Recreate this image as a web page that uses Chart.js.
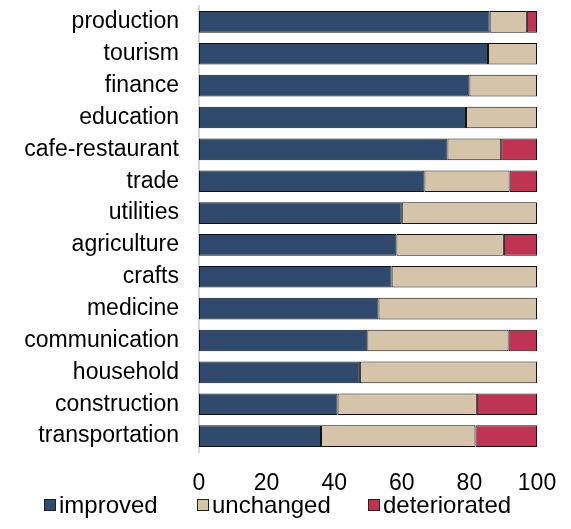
<!DOCTYPE html>
<html>
<head>
<meta charset="utf-8">
<script src="https://cdn.jsdelivr.net/npm/chart.js@4.4.1/dist/chart.umd.min.js"></script>
<style>
  html, body { margin: 0; padding: 0; background: #fff; }
  #wrap { position: relative; width: 571px; height: 529px; }
  canvas { display: block; }
  .item {
    position: absolute; top: 491px; height: 28px;
    font-family: "Liberation Sans", Arial, sans-serif; font-size: 24px; color: #000;
    display: flex; align-items: center; white-space: nowrap;
  }
  .box { width: 10px; height: 10px; border: 1px solid #222; margin-right: 3px; }
</style>
</head>
<body>
<div id="wrap">
  <canvas id="chart" width="571" height="529"></canvas>
</div>
<script>
const categories = ['production', 'tourism', 'finance', 'education', 'cafe-restaurant', 'trade', 'utilities',
  'agriculture', 'crafts', 'medicine', 'communication', 'household', 'construction', 'transportation'];
const improved = [86, 85.5, 80, 79, 73.5, 66.7, 60, 58.4, 57, 53.1, 49.8, 47.6, 41, 36.1];
const unchanged = [11, 14.5, 20, 21, 15.9, 25.2, 40, 31.8, 43, 46.9, 41.8, 52.4, 41.2, 45.7];
const deteriorated = [3, 0, 0, 0, 10.6, 8.1, 0, 9.8, 0, 0, 8.4, 0, 17.8, 18.2];
const seriesNames = ['improved', 'unchanged', 'deteriorated'];
const seriesColors = ['#304a6e', '#d5c4a9', '#bf3452'];
const xTicks = [0, 20, 40, 60, 80, 100];
const legendLeft = [44, 197, 368];

const font = { family: '"Liberation Sans", Arial, sans-serif', size: 23 };
const values = [improved, unchanged, deteriorated];

const chart = new Chart(document.getElementById('chart').getContext('2d'), {
  type: 'bar',
  data: {
    labels: categories,
    datasets: seriesNames.map((name, i) => ({
      label: name,
      data: values[i],
      backgroundColor: seriesColors[i],
      borderColor: '#111',
      borderWidth: 1,
      borderSkipped: false,
      barPercentage: 0.68,
      categoryPercentage: 1
    }))
  },
  options: {
    indexAxis: 'y',
    responsive: false,
    animation: false,
    layout: { padding: { top: 6, right: 34, left: 0, bottom: 0 } },
    plugins: { legend: { display: false }, tooltip: { enabled: false } },
    scales: {
      x: {
        stacked: true,
        min: 0,
        max: 100,
        afterBuildTicks: axis => { axis.ticks = xTicks.map(v => ({ value: v })); },
        grid: { display: false, drawTicks: false },
        border: { display: false },
        ticks: { font: font, color: '#000', padding: 18, maxRotation: 0 },
        afterFit: axis => {
          axis.height = 77;
          axis.paddingLeft = 0;
          axis.paddingRight = 0;
        }
      },
      y: {
        stacked: true,
        grid: { display: false, drawTicks: false },
        border: { display: true, color: '#d9d9d9', width: 2 },
        ticks: { font: font, color: '#000', padding: 20, autoSkip: false },
        afterFit: axis => {
          axis.width = 199;
          axis.paddingTop = 0;
          axis.paddingBottom = 0;
        }
      }
    }
  }
});

// legend under the axis
const wrap = document.getElementById('wrap');
seriesNames.forEach((name, i) => {
  const item = document.createElement('div');
  item.className = 'item';
  item.style.left = legendLeft[i] + 'px';
  const box = document.createElement('div');
  box.className = 'box';
  box.style.background = seriesColors[i];
  const txt = document.createElement('span');
  txt.textContent = name;
  item.appendChild(box);
  item.appendChild(txt);
  wrap.appendChild(item);
});
</script>
</body>
</html>
